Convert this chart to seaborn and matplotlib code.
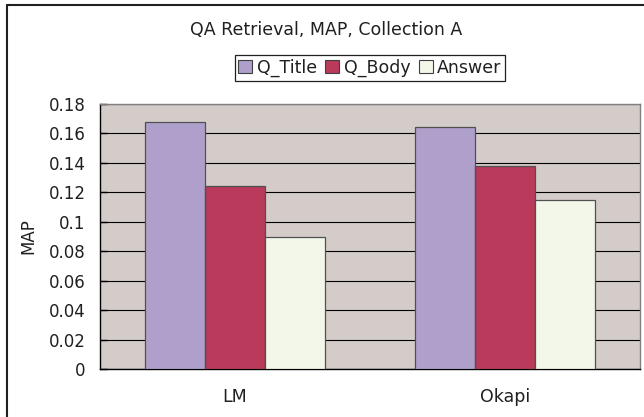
import pandas as pd
import seaborn as sns
import matplotlib.pyplot as plt
from matplotlib.lines import Line2D

# data
methods = ['LM', 'Okapi']
fields = ['Q_Title', 'Q_Body', 'Answer']
q_title = [0.1676, 0.1645]
q_body = [0.1243, 0.1380]
answer = [0.0898, 0.1150]
yticks = [0, 0.02, 0.04, 0.06, 0.08, 0.1, 0.12, 0.14, 0.16, 0.18]
ytick_labels = ['0', '0.02', '0.04', '0.06', '0.08', '0.1', '0.12', '0.14', '0.16', '0.18']

colors = ['#AF9FCB', '#B93A5A', '#F3F7EA']

df = pd.DataFrame({
    'method': methods * 3,
    'field': [f for f in fields for _ in methods],
    'MAP': q_title + q_body + answer,
})

sns.set_style('white')
plt.rcParams['font.family'] = ['DejaVu Sans']
plt.rcParams['text.color'] = '#202020'

fig = plt.figure(figsize=(6.44, 4.17), dpi=100)
ax = fig.add_axes([100 / 644, 1 - 369 / 417, 540 / 644, 265 / 417])
ax.set_facecolor('#D4CCC8')

sns.barplot(data=df, x='method', y='MAP', hue='field', hue_order=fields,
            palette=colors, saturation=1, width=0.667, gap=0, edgecolor='#505050',
            linewidth=0.9, ax=ax, legend=False, zorder=3)

ax.set_ylim(0, 0.18)
ax.set_xlim(-0.5, 1.5)
ax.set_yticks(yticks)
ax.set_yticklabels(ytick_labels, fontsize=12, color='#202020')
ax.yaxis.grid(True, color='black', linewidth=0.8, zorder=1)
ax.set_axisbelow(True)

# Excel-style category separator tick
ax.set_xticks([0.5], minor=True)
ax.set_xticks([0, 1])
ax.set_xticklabels(methods, fontsize=12.5, color='#202020')
ax.tick_params(axis='x', which='major', length=0, pad=13.5)
ax.tick_params(axis='x', which='minor', direction='in', length=5, color='#404040', width=1)
ax.tick_params(axis='y', direction='in', length=5, color='black', width=1, left=True, pad=10.5)

ax.set_xlabel('')
ax.set_ylabel('MAP', fontsize=12, color='#202020', labelpad=8)

for side in ['left', 'bottom']:
    ax.spines[side].set_color('black')
    ax.spines[side].set_linewidth(1.0)
for side in ['top', 'right']:
    ax.spines[side].set_color('#808080')
    ax.spines[side].set_linewidth(1.0)

fig.text(326 / 644, 1 - 30 / 417, 'QA Retrieval, MAP, Collection A',
         ha='center', va='center', fontsize=12.5)

handles = [plt.Rectangle((0, 0), 1, 1, facecolor=c, edgecolor='#404040', linewidth=0.8)
           for c in colors]
leg = fig.legend(handles, fields, loc='center', ncol=3,
                 bbox_to_anchor=(370 / 644, 1 - 68 / 417),
                 bbox_transform=fig.transFigure, fontsize=12.5,
                 handlelength=0.8, handleheight=0.8, handletextpad=0.25,
                 columnspacing=0.5, borderpad=0.2, fancybox=False,
                 framealpha=1, edgecolor='#202020', borderaxespad=0)
leg.get_frame().set_linewidth(0.9)

# outer chart border (right and bottom are cropped in the reference)
fig.add_artist(Line2D([7 / 644, 7 / 644], [0, 1 - 5 / 417], color='#202020', linewidth=1.5,
                      transform=fig.transFigure))
fig.add_artist(Line2D([7 / 644, 1], [1 - 5 / 417, 1 - 5 / 417], color='#202020', linewidth=1.5,
                      transform=fig.transFigure))

fig.savefig('out.png', dpi=100)
